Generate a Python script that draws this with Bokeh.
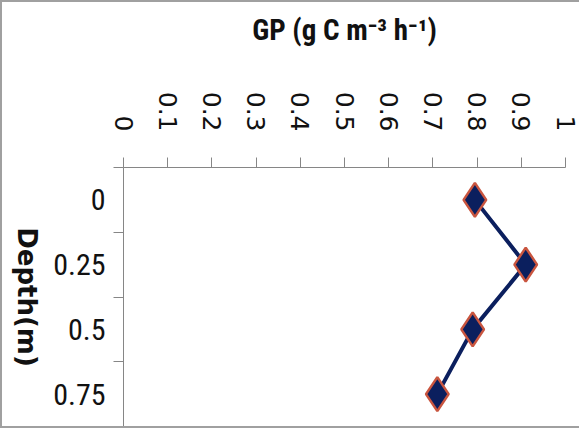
from math import pi
from bokeh.plotting import figure
from bokeh.layouts import row
from bokeh.models import Range1d, FixedTicker, CustomJSTickFormatter
from bokeh.core.properties import value
from bokeh.embed import file_html
from bokeh.resources import INLINE

# ---- data ----
depth = [0, 0.25, 0.5, 0.75]
gp = [0.795, 0.91, 0.79, 0.71]
x_ticks = [0, 0.1, 0.2, 0.3, 0.4, 0.5, 0.6, 0.7, 0.8, 0.9, 1.0]
depth_edges = [-0.125, 0.125, 0.375, 0.625, 0.875]
x_title = "GP (g C m\u207b\u00b3 h\u207b\u00b9)"
y_title = "Depth(m)"

AX = "#868686"
NARROW = "'Roboto Condensed', 'Liberation Sans Narrow', 'DejaVu Sans Condensed', Roboto"
H = 424
LW = 48

yr = Range1d(depth_edges[-1], depth_edges[0])

p = figure(width=577 - LW, height=H,
           x_range=Range1d(0, 1), y_range=yr,
           x_axis_location="above",
           output_backend="svg", toolbar_location=None,
           min_border_left=118 - LW, min_border_top=165,
           min_border_right=14, min_border_bottom=0)
p.outline_line_color = None
p.xgrid.visible = False
p.ygrid.visible = False

xa = p.xaxis[0]
xa.ticker = FixedTicker(ticks=x_ticks)
xa.formatter = CustomJSTickFormatter(code="return String(Number(tick.toFixed(1)))")
xa.major_label_orientation = -pi / 2
xa.major_tick_out = 10
xa.major_tick_in = 0
xa.minor_tick_line_color = None
xa.axis_line_color = AX
xa.major_tick_line_color = AX
xa.major_label_text_font = "DejaVu Sans"
xa.major_label_text_font_size = "25px"
xa.major_label_text_color = "#111111"
xa.major_label_standoff = 26
xa.axis_label = x_title
xa.axis_label_text_font = NARROW
xa.axis_label_text_font_style = "bold"
xa.axis_label_text_font_size = "29px"
xa.axis_label_text_color = "#111111"
xa.axis_label_standoff = 42

ya = p.yaxis[0]
ya.ticker = FixedTicker(ticks=depth, minor_ticks=depth_edges)
ya.formatter = CustomJSTickFormatter(code="return String(Number(tick.toFixed(2)))")
ya.major_tick_out = 0
ya.major_tick_in = 0
ya.minor_tick_out = 10
ya.minor_tick_in = 0
ya.minor_tick_line_color = AX
ya.axis_line_color = AX
ya.major_label_text_font = NARROW
ya.major_label_text_font_size = "30px"
ya.major_label_text_color = "#111111"
ya.major_label_standoff = 8

p.line(gp, depth, line_color="#0b1f5e", line_width=4)
p.scatter(gp, depth, marker="diamond", size=34,
          fill_color="#0b1f5e", line_color="#c9553f", line_width=2.5)

# left panel holding the rotated axis title (reads top to bottom)
lp = figure(width=LW, height=H, x_range=Range1d(0, 1), y_range=yr,
            output_backend="svg", toolbar_location=None,
            min_border_left=0, min_border_right=0,
            min_border_top=165, min_border_bottom=0)
lp.axis.visible = False
lp.grid.visible = False
lp.outline_line_color = None
lp.text(x=[0.5], y=[(depth_edges[0] + depth_edges[-1]) / 2], text=[y_title],
        angle=-pi / 2, text_align="center", text_baseline="middle",
        text_font=value("DejaVu Sans"), text_font_style="bold",
        text_font_size=value("26px"), text_color="#111111")

layout = row(lp, p, spacing=0,
             styles={"border-left": "2px solid #a0a0a0",
                     "border-top": "2px solid #a0a0a0",
                     "border-bottom": "2px solid #a0a0a0"})

open("out.html", "w").write(file_html(layout, INLINE))
